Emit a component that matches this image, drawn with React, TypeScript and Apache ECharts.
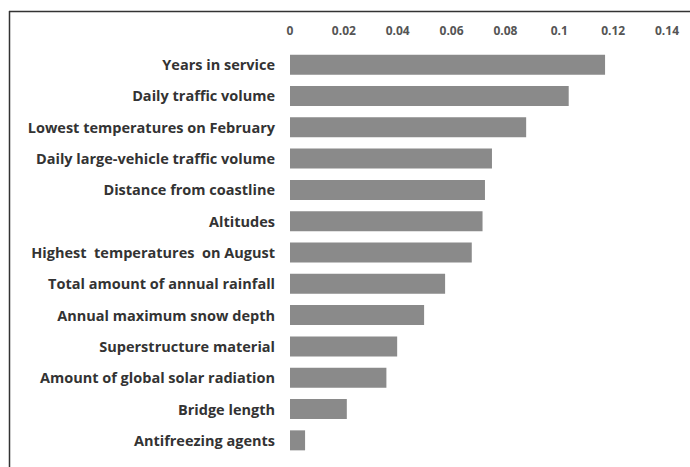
import React, { useEffect, useRef } from "react";
import * as echarts from "echarts";

const categories = [
  "Years in service",
  "Daily traffic volume",
  "Lowest temperatures on February",
  "Daily large-vehicle traffic volume",
  "Distance from coastline",
  "Altitudes",
  "Highest  temperatures  on August",
  "Total amount of annual rainfall",
  "Annual maximum snow depth",
  "Superstructure material",
  "Amount of global solar radiation",
  "Bridge length",
  "Antifreezing agents",
];
const values = [0.117, 0.1035, 0.0877, 0.075, 0.0724, 0.0715, 0.0675, 0.0576, 0.0498, 0.0398, 0.0358, 0.0211, 0.0056];
const tickMin = 0;
const tickMax = 0.14;
const tickStep = 0.02;

export default function App() {
  const ref = useRef<HTMLDivElement>(null);
  useEffect(() => {
    if (!ref.current) return;
    const chart = echarts.init(ref.current, undefined, { renderer: "svg" });
    chart.setOption({
      animation: false,
      backgroundColor: "#ffffff",
      grid: { left: 290, top: 49, width: 377, height: 407, containLabel: false },
      xAxis: {
        type: "value",
        position: "top",
        min: tickMin,
        max: tickMax,
        interval: tickStep,
        axisLine: { show: false },
        axisTick: { show: false },
        splitLine: { show: false },
        axisLabel: {
          margin: 13,
          fontSize: 12,
          fontWeight: "bold",
          color: "#555",
          fontFamily: "Open Sans",
          formatter: (v: number) => String(parseFloat(v.toFixed(2))),
        },
      },
      yAxis: {
        type: "category",
        inverse: true,
        data: categories,
        axisLine: { show: false },
        axisTick: { show: false },
        axisLabel: {
          margin: 15,
          fontSize: 14.5,
          fontWeight: "bold",
          color: "#333",
          fontFamily: "Open Sans",
        },
      },
      series: [
        {
          type: "bar",
          data: values,
          barWidth: 20,
          itemStyle: { color: "#8a8a8a" },
        },
      ],
      graphic: [
        { type: "line", shape: { x1: 9, y1: 11.5, x2: 690, y2: 11.5 }, style: { stroke: "#333", lineWidth: 1.5 } },
        { type: "line", shape: { x1: 9.5, y1: 11, x2: 9.5, y2: 467 }, style: { stroke: "#333", lineWidth: 1.5 } },
      ],
    });
    return () => chart.dispose();
  }, []);
  return <div ref={ref} style={{ position: "fixed", left: 0, top: 0, width: 690, height: 467 }} />;
}
